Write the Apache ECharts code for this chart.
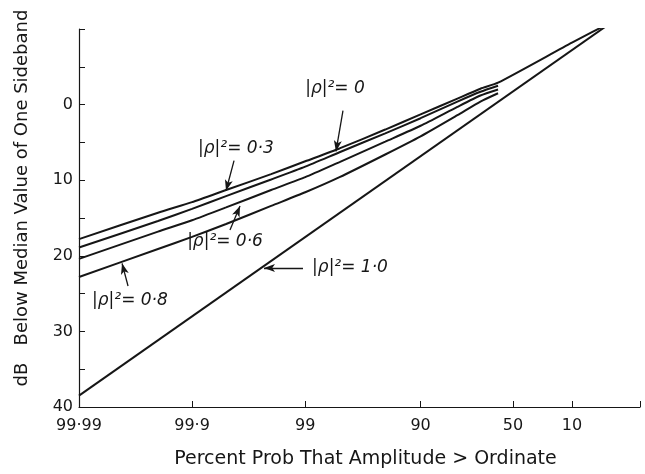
<!DOCTYPE html>
<html>
<head>
<meta charset="utf-8">
<style>
  html, body { margin: 0; padding: 0; background: #fff; }
  #chart { width: 645px; height: 474px; }
</style>
<script src="https://cdn.jsdelivr.net/npm/echarts@6.0.0/dist/echarts.min.js"></script>
</head>
<body>
<div id="chart"></div>
<script>
// x: percent probability that amplitude > ordinate, y: dB below median
var probTicks = [99.99, 99.9, 99, 90, 50, 10];
var probTickLabels = ['99·99', '99·9', '99', '90', '50', '10'];
var probEnd = 0.01;
var dbLabels = [0, 10, 20, 30, 40];

var probRho0 = [99.99, 99.95, 99.9, 99.8, 99.5, 99, 98, 95, 90, 80, 70, 60, 10, 0.5];
var dbRho0 = [17.8, 14.3, 12.9, 11.3, 9.2, 7.5, 5.8, 3.3, 1.3, -0.8, -2.1, -2.9, -8.2, -11.0];

var probCurve = [99.99, 99.95, 99.9, 99.8, 99.5, 99, 98, 95, 90, 80, 70, 60];
var dbRho03 = [18.9, 15.4, 13.8, 12.1, 9.9, 8.2, 6.3, 3.8, 1.8, -0.4, -1.7, -2.5];
var dbRho06 = [20.4, 16.8, 15.3, 13.6, 11.3, 9.6, 7.6, 4.9, 2.8, 0.3, -1.2, -2.0];
var dbRho08 = [22.8, 19.1, 17.5, 15.8, 13.4, 11.6, 9.6, 6.6, 4.2, 1.4, -0.4, -1.5];

var probRho10 = [99.99, 0.5];
var dbRho10 = [38.5, -11.0];

(function () {
    // Rayleigh probability paper: position = log10(-ln P)
    function ray(p) {
        return Math.log10(-Math.log(p / 100));
    }
    function pts(probs, dbs) {
        return probs.map(function (p, i) { return [ray(p), dbs[i]]; });
    }

    var ink = '#161616';
    var labelFont = {
        fontSize: 17,
        fontStyle: 'italic',
        fontFamily: 'DejaVu Sans',
        color: ink
    };

    // annotation placement, in axis units [paper x, dB]
    function note(text, at, from, to) {
        return {
            markPoint: {
                symbolSize: 0,
                silent: true,
                label: Object.assign({ show: true, position: 'inside', formatter: text }, labelFont),
                data: [{ coord: at }]
            },
            markLine: {
                silent: true,
                symbol: ['none', 'arrow'],
                symbolSize: [6, 11],
                label: { show: false },
                lineStyle: { color: ink, width: 1.3, type: 'solid' },
                data: [[{ coord: from }, { coord: to }]]
            }
        };
    }

    function curve(name, data, extra) {
        return Object.assign({
            name: name,
            type: 'line',
            data: data,
            smooth: 0.2,
            showSymbol: false,
            symbol: 'none',
            lineStyle: { color: ink, width: 2 },
            z: 3
        }, extra);
    }

    var myChart = echarts.init(document.getElementById('chart'));

    var tickVals = probTicks.map(ray);

    option = {
        animation: false,
        backgroundColor: '#fff',
        grid: {
            left: 79,
            right: 5,
            top: 29,
            bottom: 66
        },
        xAxis: {
            type: 'value',
            min: ray(99.99),
            max: ray(probEnd),
            name: 'Percent Prob That Amplitude > Ordinate',
            nameLocation: 'middle',
            nameGap: 43,
            nameTextStyle: { fontSize: 19, color: ink, fontFamily: 'DejaVu Sans', padding: [0, 0, 0, 12] },
            axisLine: { onZero: false, lineStyle: { color: ink, width: 1.2 } },
            axisTick: {
                inside: true,
                length: 6,
                customValues: tickVals.concat([ray(probEnd)]),
                lineStyle: { color: ink }
            },
            axisLabel: {
                customValues: tickVals,
                margin: 11,
                fontSize: 16,
                color: ink,
                fontFamily: 'DejaVu Sans',
                formatter: function (v) {
                    for (var i = 0; i < tickVals.length; i++) {
                        if (Math.abs(tickVals[i] - v) < 1e-6) return probTickLabels[i];
                    }
                    return '';
                }
            },
            splitLine: { show: false }
        },
        yAxis: {
            type: 'value',
            inverse: true,
            min: -10,
            max: 40,
            interval: 5,
            axisLine: { show: true, onZero: false, lineStyle: { color: ink, width: 1.2 } },
            axisTick: { show: true, inside: true, length: 6, lineStyle: { color: ink } },
            axisLabel: {
                customValues: dbLabels,
                margin: 6,
                fontSize: 16,
                color: ink,
                fontFamily: 'DejaVu Sans'
            },
            splitLine: { show: false }
        },
        graphic: [{
            type: 'text',
            x: 22,
            y: 198,
            rotation: Math.PI / 2,
            style: {
                text: 'dB   Below Median Value of One Sideband',
                fontSize: 18,
                fontFamily: 'DejaVu Sans',
                fill: ink,
                align: 'center',
                verticalAlign: 'middle'
            }
        }],
        series: [
            curve('|ρ|²=0', pts(probRho0, dbRho0),
                note('|ρ|²= 0', [-1.735, -2.1], [-1.664, 0.8], [-1.726, 6.2])),
            curve('|ρ|²=0.3', pts(probCurve, dbRho03),
                note('|ρ|²= 0·3', [-2.611, 5.8], [-2.628, 7.4], [-2.699, 11.4])),
            curve('|ρ|²=0.6', pts(probCurve, dbRho06),
                note('|ρ|²= 0·6', [-2.708, 18.1], [-2.664, 16.6], [-2.575, 13.4])),
            curve('|ρ|²=0.8', pts(probCurve, dbRho08),
                note('|ρ|²= 0·8', [-3.549, 25.9], [-3.566, 24.0], [-3.619, 21.0])),
            curve('|ρ|²=1.0', pts(probRho10, dbRho10),
                note('|ρ|²= 1·0', [-1.602, 21.6], [-2.018, 21.6], [-2.363, 21.6]))
        ]
    };

    myChart.setOption(option);
    window.addEventListener('resize', function () {
        myChart.resize();
    });
})();
</script>
</body>
</html>
